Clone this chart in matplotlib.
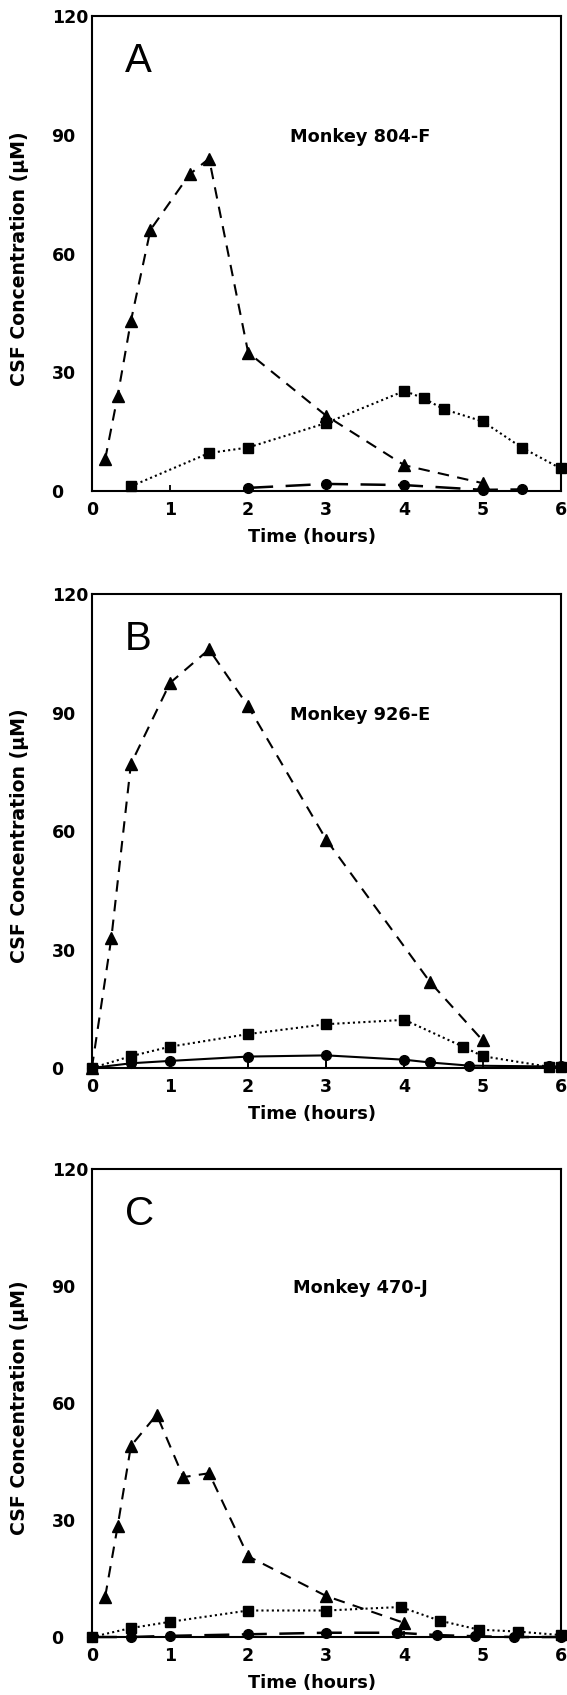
import matplotlib
matplotlib.use("Agg")
import matplotlib.pyplot as plt

# panel A - Monkey 804-F
a_tri_x = [0.17, 0.33, 0.5, 0.75, 1.25, 1.5, 2, 3, 4, 5]
a_tri_y = [8, 24, 43, 66, 80, 84, 35, 19, 6.5, 2]
a_sq_x = [0.5, 1.5, 2, 3, 4, 4.25, 4.5, 5, 5.5, 6]
a_sq_y = [1.2, 9.6, 11, 17.2, 25.3, 23.4, 20.7, 17.6, 11, 5.7]
a_ci_x = [2, 3, 4, 5, 5.5]
a_ci_y = [0.8, 1.8, 1.5, 0.3, 0.4]

# panel B - Monkey 926-E
b_tri_x = [0, 0.25, 0.5, 1, 1.5, 2, 3, 4.33, 5]
b_tri_y = [0, 33, 77, 97.5, 106, 91.6, 57.8, 21.7, 7]
b_sq_x = [0, 0.5, 1, 2, 3, 4, 4.75, 5, 5.85, 6]
b_sq_y = [0, 3, 5.4, 8.6, 11.1, 12.2, 5.4, 3, 0.3, 0.3]
b_ci_x = [0, 0.5, 1, 2, 3, 4, 4.33, 4.83, 5.85, 6]
b_ci_y = [0, 1.2, 1.8, 2.9, 3.2, 2.1, 1.4, 0.6, 0.4, 0.4]

# panel C - Monkey 470-J
c_tri_x = [0.17, 0.33, 0.5, 0.83, 1.17, 1.5, 2, 3, 4]
c_tri_y = [10.3, 28.4, 49, 57, 41, 42, 20.7, 10.5, 3.6]
c_sq_x = [0, 0.5, 1, 2, 3, 3.95, 4.45, 4.95, 5.45, 6]
c_sq_y = [0, 2.3, 3.9, 6.8, 6.8, 7.7, 4.2, 1.9, 1.4, 0.5]
c_ci_x = [0, 0.5, 1, 2, 3, 3.9, 4.42, 4.9, 5.4, 6]
c_ci_y = [0, 0, 0.3, 0.7, 1.1, 1.1, 0.5, 0.2, 0, 0]

letters = ["A", "B", "C"]
names = ["Monkey 804-F", "Monkey 926-E", "Monkey 470-J"]
yticks = [0, 30, 60, 90, 120]
xticks = [0, 1, 2, 3, 4, 5, 6]

fig = plt.figure(figsize=(5.67, 16.95), dpi=100)
boxes = [
    [0.162, 0.7103, 0.827, 0.2802],
    [0.162, 0.3699, 0.827, 0.2796],
    [0.162, 0.0342, 0.827, 0.2761],
]
data = [
    (a_tri_x, a_tri_y, a_sq_x, a_sq_y, a_ci_x, a_ci_y),
    (b_tri_x, b_tri_y, b_sq_x, b_sq_y, b_ci_x, b_ci_y),
    (c_tri_x, c_tri_y, c_sq_x, c_sq_y, c_ci_x, c_ci_y),
]

bold = dict(fontfamily="DejaVu Sans", fontweight="bold")

for i, box in enumerate(boxes):
    ax = fig.add_axes(box)
    tx, ty, sx, sy, cx, cy = data[i]

    # triangles, dashed
    ax.plot(tx, ty, color="black", lw=1.5, ls=(0, (5.5, 4)), marker="^",
            ms=9, clip_on=False, zorder=3)
    # squares, dotted
    ax.plot(sx, sy, color="black", lw=1.5, ls=(0, (1, 1.5)), marker="s",
            ms=7.5, clip_on=False, zorder=3)
    # circles
    if i == 1:
        ax.plot(cx, cy, color="black", lw=1.5, ls="-", marker="o",
                ms=7, clip_on=False, zorder=3)
        ebx = cx[1:6]
        eby = cy[1:6]
        ax.errorbar(ebx, eby, yerr=[eby, [0] * len(eby)], fmt="none",
                    ecolor="black", elinewidth=1.4, capsize=0, clip_on=False)
    else:
        ax.plot(cx, cy, color="black", lw=1.8, ls=(0, (10, 5)), marker="o",
                ms=7, clip_on=False, zorder=3)

    ax.set_xlim(0, 6)
    ax.set_ylim(0, 120)
    ax.set_xticks(xticks)
    ax.set_yticks(yticks)
    ax.set_xticklabels([str(v) for v in xticks], fontsize=12.5, **bold)
    ax.set_yticklabels([str(v) for v in yticks], fontsize=12.5, ha="left", **bold)
    ax.tick_params(axis="x", direction="in", length=4, width=1.3, pad=7)
    ax.tick_params(axis="y", direction="in", length=0, pad=29)
    for s in ax.spines.values():
        s.set_linewidth(1.5)

    ax.set_xlabel("Time (hours)", fontsize=12.8, **bold)
    ax.xaxis.set_label_coords(0.47, -0.078)
    ax.set_ylabel("CSF Concentration (\u03bcM)", fontsize=13.6, **bold)
    ax.yaxis.set_label_coords(-0.133, 0.49)

    ax.text(0.07, 0.905, letters[i], transform=ax.transAxes, fontsize=29,
            fontfamily="Liberation Sans", va="center", ha="left")
    ax.text(0.573, 0.745, names[i], transform=ax.transAxes, fontsize=12.8,
            ha="center", va="center", **bold)

fig.savefig("out.png", dpi=100)
